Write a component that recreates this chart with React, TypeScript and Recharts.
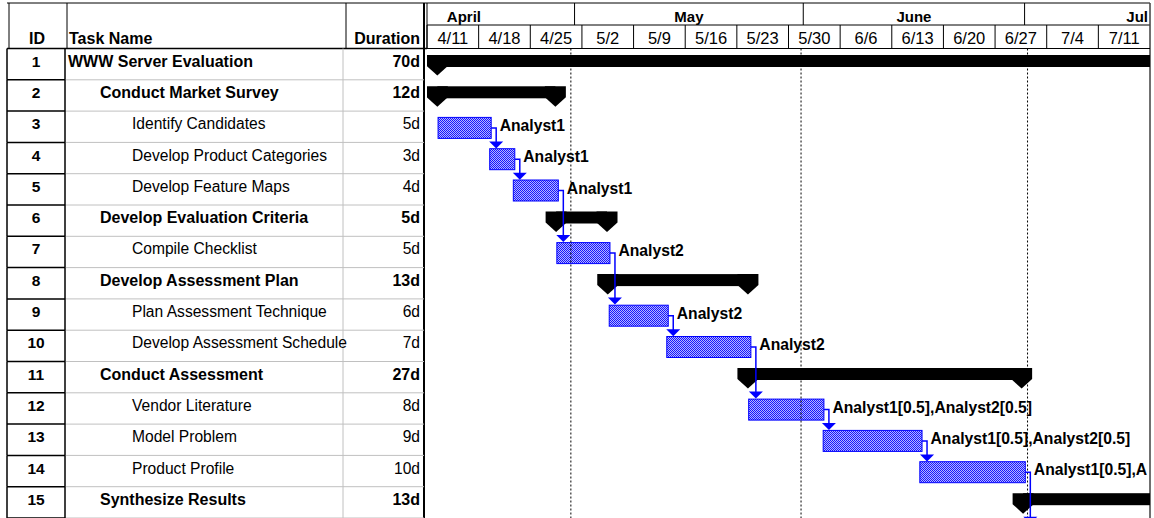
import React from "react";
import { Bar, ComposedChart, Customized, LabelList, ReferenceLine, XAxis, YAxis } from "recharts";

// Task table
const ids = ["1", "2", "3", "4", "5", "6", "7", "8", "9", "10", "11", "12", "13", "14", "15"];
const taskNames = [
  "WWW Server Evaluation",
  "Conduct Market Survey",
  "Identify Candidates",
  "Develop Product Categories",
  "Develop Feature Maps",
  "Develop Evaluation Criteria",
  "Compile Checklist",
  "Develop Assessment Plan",
  "Plan Assessment Technique",
  "Develop Assessment Schedule",
  "Conduct Assessment",
  "Vendor Literature",
  "Model Problem",
  "Product Profile",
  "Synthesize Results",
];
const durations = ["70d", "12d", "5d", "3d", "4d", "5d", "5d", "13d", "6d", "7d", "27d", "8d", "9d", "10d", "13d"];
const outlineLevels = [0, 1, 2, 2, 2, 1, 2, 1, 2, 2, 1, 2, 2, 2, 1];
const isSummary = [true, true, false, false, false, true, false, true, false, false, true, false, false, false, true];

// bar start / finish in days after 4/11
const starts = [1.4, 1.4, 1.5, 8.5, 11.7, 17.5, 17.6, 24.5, 24.7, 32.5, 43.5, 43.6, 53.7, 66.8, 80.8];
const finishes = [110, 17.4, 8.7, 11.9, 17.8, 24.4, 24.8, 43.5, 32.7, 43.9, 80.6, 53.8, 67.1, 81.1, 110];
const resources = [
  "", "", "Analyst1", "Analyst1", "Analyst1", "", "Analyst2", "", "Analyst2", "Analyst2", "",
  "Analyst1[0.5],Analyst2[0.5]", "Analyst1[0.5],Analyst2[0.5]", "Analyst1[0.5],Analyst2[0.5]", "",
];
// successor row index (15 = task 16, below the view)
const successors = [null, null, 3, 4, 6, null, 8, null, 9, 11, null, 12, 13, 15, null];

// timescale
const weekStarts = [0, 7, 14, 21, 28, 35, 42, 49, 56, 63, 70, 77, 84, 91];
const weekLabels = ["4/11", "4/18", "4/25", "5/2", "5/9", "5/16", "5/23", "5/30", "6/6", "6/13", "6/20", "6/27", "7/4", "7/11"];
const months = ["April", "May", "June", "Jul"];
const monthStarts = [-10, 20, 51, 81];
const monthEnds = [20, 51, 81, 112];
const gridDays = [19.5, 50.7, 81.4];
const DOMAIN_END = 98;

const FONT = '"Liberation Sans", Arial, sans-serif';
const CHART_W = 1154;
const CHART_H = 518;
const MARGIN = { top: 3, right: 4, bottom: 0, left: 7 };
const HEADER_H = 45.5;
const TABLE_W = 420;
const PLOT_LEFT = MARGIN.left + TABLE_W;
const PLOT_RIGHT = CHART_W - MARGIN.right;
const PLOT_TOP = MARGIN.top + HEADER_H;
const ROW_H = (CHART_H - PLOT_TOP - MARGIN.bottom) / ids.length;
const MONTH_ROW_BOTTOM = 25;

const COL_ID_R = 65;
const COL_DUR_L = 343;
const COL_DUR_R = 424;

const BLUE = "#0000ff";

const rows = ids.map((id, i) => ({ id, range: [starts[i], finishes[i]] }));

const weekMids = weekStarts.map((d) => d + 3.5);
const monthBounds = monthStarts.filter((d) => d > 0);
const monthMids = monthStarts.map((s, i) => (s + monthEnds[i]) / 2);
const headerTicks = [...weekStarts, ...weekMids, ...monthBounds, ...monthMids].sort((a, b) => a - b);

function HeaderTick(props: any) {
  const { x, payload } = props;
  const v = payload.value;
  const wi = weekMids.indexOf(v);
  const mi = monthMids.indexOf(v);
  if (weekStarts.includes(v)) {
    return <line x1={x} x2={x} y1={MONTH_ROW_BOTTOM} y2={PLOT_TOP} stroke="#000" />;
  }
  if (monthBounds.includes(v)) {
    return <line x1={x} x2={x} y1={MARGIN.top} y2={MONTH_ROW_BOTTOM} stroke="#000" />;
  }
  if (wi >= 0) {
    return (
      <text x={x} y={44} textAnchor="middle" fontSize={16.5} fill="#000">
        {weekLabels[wi]}
      </text>
    );
  }
  if (mi >= 0) {
    const label = months[mi];
    const half = label.length * 4.4;
    const clamp = x + half > PLOT_RIGHT - 2;
    return (
      <text x={clamp ? PLOT_RIGHT - 2 : x} y={22} textAnchor={clamp ? "end" : "middle"} fontSize={15} fontWeight="bold" fill="#000">
        {label}
      </text>
    );
  }
  return null;
}

function TableRow(props: any) {
  const { y, payload } = props;
  const i = ids.indexOf(String(payload.value));
  const top = y - ROW_H / 2;
  const bottom = y + ROW_H / 2;
  const bold = isSummary[i];
  const size = bold ? 16 : 15.6;
  return (
    <g>
      <line x1={COL_ID_R} x2={COL_DUR_R} y1={bottom} y2={bottom} stroke="#c0c0c0" />
      <line x1={COL_DUR_L} x2={COL_DUR_L} y1={top} y2={bottom} stroke="#c0c0c0" />
      <line x1={MARGIN.left} x2={COL_ID_R} y1={bottom} y2={bottom} stroke="#000" strokeWidth={1.5} />
      <line x1={MARGIN.left} x2={MARGIN.left} y1={top} y2={bottom} stroke="#000" strokeWidth={1.5} />
      <line x1={COL_ID_R} x2={COL_ID_R} y1={top} y2={bottom} stroke="#000" strokeWidth={1.5} />
      <text x={36} y={y + 2.5} textAnchor="middle" fontSize={15.5} fontWeight="bold" fill="#000">
        {ids[i]}
      </text>
      <text x={68 + outlineLevels[i] * 32} y={y + 2.5} fontSize={size} fontWeight={bold ? "bold" : "normal"} fill="#000">
        {taskNames[i]}
      </text>
      <text x={420} y={y + 2.5} textAnchor="end" fontSize={size} fontWeight={bold ? "bold" : "normal"} fill="#000">
        {durations[i]}
      </text>
    </g>
  );
}

function capPath(cx: number, t: number) {
  return `M${cx - 10.5},${t} H${cx + 10.5} V${t + 11} L${cx},${t + 20.5} L${cx - 10.5},${t + 11} Z`;
}

function TaskShape(props: any) {
  const { x, y, width, index } = props;
  if (isSummary[index]) {
    const t = y + 6.5;
    return (
      <g>
        <rect x={x} y={t} width={width} height={12} fill="#000" />
        <path d={capPath(x, t)} fill="#000" />
        <path d={capPath(x + width, t)} fill="#000" />
      </g>
    );
  }
  return <rect x={x} y={y + 6.3} width={width} height={21} fill="url(#taskDots)" stroke={BLUE} strokeWidth={1} />;
}

function LinkAndLabel(props: any) {
  const vb = props.viewBox ?? props;
  const { x, y, width, height } = vb;
  const index = props.index;
  if (isSummary[index]) return null;
  const ex = x + width;
  const my = y + 6.3 + 10.5;
  const succ = successors[index];
  let link = null;
  if (succ !== null) {
    const vx = ex + 5;
    const targetTop = y + (succ - index) * height + 6.3;
    link = (
      <g>
        <path d={`M${ex},${my} H${vx} V${targetTop - 6}`} stroke={BLUE} strokeWidth={1.5} fill="none" />
        <path d={`M${vx - 7},${targetTop - 7} H${vx + 7} L${vx},${targetTop} Z`} fill={BLUE} />
      </g>
    );
  }
  return (
    <g>
      {link}
      <g clipPath="url(#ganttClip)">
        <text x={ex + 8.5} y={y + height / 2 + 4.3} fontSize={15.7} fontWeight="bold" fill="#000">
          {resources[index]}
        </text>
      </g>
    </g>
  );
}

function Frame() {
  return (
    <g>
      <defs>
        <pattern id="taskDots" width={2} height={2} patternUnits="userSpaceOnUse">
          <rect width={2} height={2} fill="#b4b4ff" />
          <rect width={1} height={1} fill="#1515ff" />
          <rect x={1} y={1} width={1} height={1} fill="#1515ff" />
        </pattern>
        <clipPath id="ganttClip">
          <rect x={PLOT_LEFT} y={PLOT_TOP} width={PLOT_RIGHT - PLOT_LEFT - 3} height={CHART_H - PLOT_TOP} />
        </clipPath>
      </defs>
      {/* table header */}
      <line x1={MARGIN.left} x2={PLOT_RIGHT} y1={MARGIN.top} y2={MARGIN.top} stroke="#000" />
      <line x1={PLOT_LEFT} x2={PLOT_RIGHT} y1={MONTH_ROW_BOTTOM} y2={MONTH_ROW_BOTTOM} stroke="#000" />
      <line x1={MARGIN.left} x2={PLOT_LEFT} y1={PLOT_TOP} y2={PLOT_TOP} stroke="#000" strokeWidth={1.5} />
      <line x1={MARGIN.left + 2} x2={MARGIN.left + 2} y1={MARGIN.top} y2={PLOT_TOP} stroke="#000" />
      <line x1={67} x2={67} y1={MARGIN.top} y2={PLOT_TOP} stroke="#000" />
      <line x1={346} x2={346} y1={MARGIN.top} y2={PLOT_TOP} stroke="#000" />
      <line x1={COL_DUR_R} x2={COL_DUR_R} y1={MARGIN.top} y2={CHART_H} stroke="#000" strokeWidth={2} />
      <line x1={PLOT_LEFT} x2={PLOT_LEFT} y1={MARGIN.top} y2={PLOT_TOP} stroke="#000" />
      <line x1={PLOT_RIGHT} x2={PLOT_RIGHT} y1={MARGIN.top} y2={CHART_H} stroke="#404040" strokeWidth={1.5} />
      <text x={37} y={44} textAnchor="middle" fontSize={16} fontWeight="bold" fill="#000">ID</text>
      <text x={69} y={44} fontSize={16} fontWeight="bold" fill="#000">Task Name</text>
      <text x={420} y={44} textAnchor="end" fontSize={16} fontWeight="bold" fill="#000">Duration</text>
    </g>
  );
}

export default function App() {
  return (
    <div style={{ width: CHART_W, height: CHART_H, fontFamily: FONT, background: "#fff" }}>
      <style>{"body{margin:0;background:#fff}"}</style>
      <ComposedChart
        width={CHART_W}
        height={CHART_H}
        data={rows}
        layout="vertical"
        margin={MARGIN}
        barCategoryGap={0}
        barGap={0}
      >
        <Customized component={<Frame />} />
        <XAxis
          type="number"
          orientation="top"
          domain={[0, DOMAIN_END]}
          allowDataOverflow
          ticks={headerTicks}
          interval={0}
          height={HEADER_H}
          tickLine={false}
          axisLine={{ stroke: "#000" }}
          tick={HeaderTick}
        />
        <YAxis
          type="category"
          dataKey="id"
          width={TABLE_W}
          axisLine={false}
          tickLine={false}
          interval={0}
          tick={TableRow}
        />
        {gridDays.map((d) => (
          <ReferenceLine key={d} x={d} stroke="#000" strokeDasharray="2 2" />
        ))}
        <Bar dataKey="range" isAnimationActive={false} shape={TaskShape}>
          <LabelList dataKey="id" content={LinkAndLabel} />
        </Bar>
      </ComposedChart>
    </div>
  );
}
